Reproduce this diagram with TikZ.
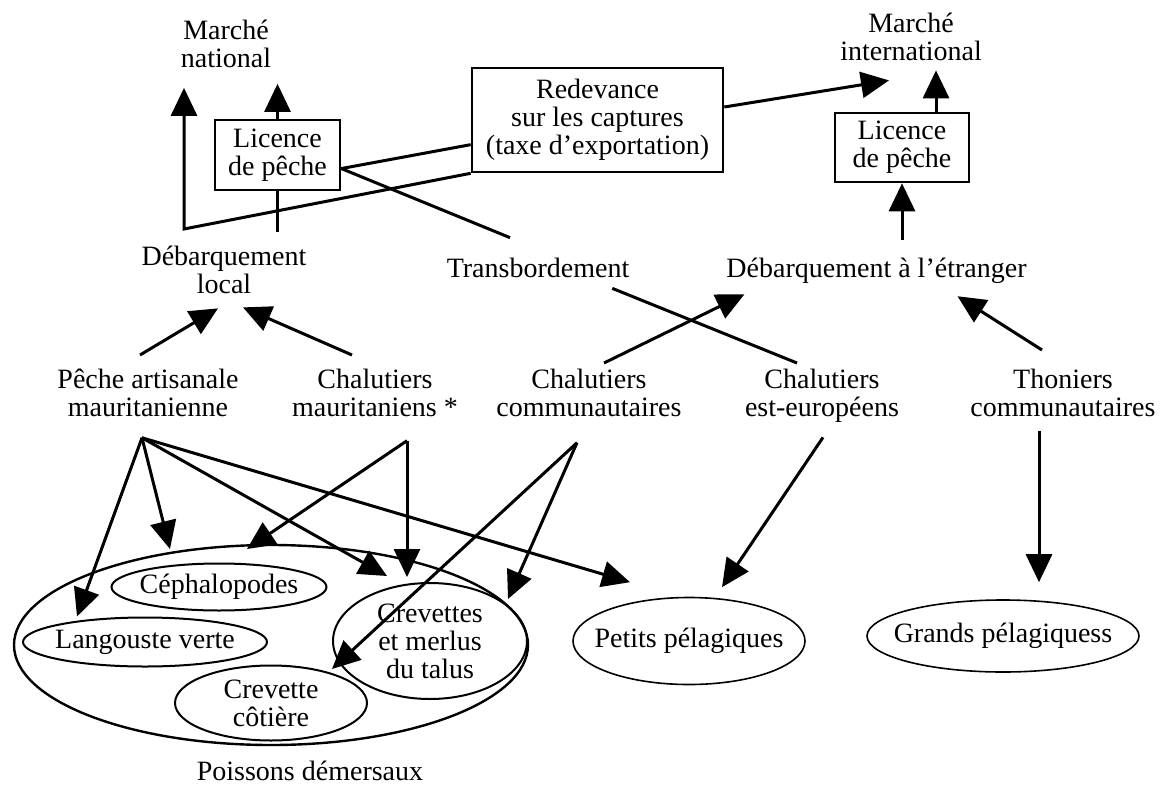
\documentclass[tikz,border=0pt]{standalone}
\usepackage{fontspec}
\setmainfont{Liberation Serif}
\usepackage{tikz}
\usetikzlibrary{arrows.meta, positioning, calc, shapes.geometric}
\tikzset{
  txtnode/.style={inner sep=0pt, outer sep=0pt, align=center, font=\fontsize{14pt}{14pt}\selectfont},
  boxnode/.style={rectangle, draw, line width=1.3pt, inner sep=0pt, align=center, font=\fontsize{14pt}{14pt}\selectfont},
  fishell/.style={ellipse, draw, line width=1pt, inner sep=0pt, align=center, font=\fontsize{14pt}{14pt}\selectfont},
  groupell/.style={ellipse, draw, line width=1.2pt, inner sep=0pt},
  arrow/.style={-{Triangle[length=14pt, width=13pt]}, line width=1.5pt},
  plainline/.style={line width=1.5pt}
}
\begin{document}
\begin{tikzpicture}[x=0.5pt, y=-0.5pt]
  \useasboundingbox (0,0) rectangle (1162,787);

  \node[txtnode] (marcheNat) at (226,44) {Marché\\national};
  \node[txtnode] (marcheInt) at (911,36.5) {Marché\\international};
  \node[boxnode, minimum width=62.5pt, minimum height=35pt] (licNat) at (277.5,155) {Licence\\de pêche};
  \node[boxnode, minimum width=67pt, minimum height=34.5pt] (licInt) at (902,147.5) {Licence\\de pêche};
  \node[boxnode, minimum width=125.5pt, minimum height=52pt] (redev) at (597.5,120) {Redevance\\sur les captures\\(taxe d'exportation)};

  \node[txtnode] (debLocal) at (224,269.5) {Débarquement\\local};
  \node[txtnode] (transb) at (538,267.5) {Transbordement};
  \node[txtnode] (debEtr) at (876.5,270.5) {Débarquement à l'étranger};

  \node[txtnode, anchor=north] (peche) at (148,369) {Pêche artisanale\\mauritanienne};
  \node[txtnode, anchor=north] (chalMaur) at (375,369) {Chalutiers\\mauritaniens *};
  \node[txtnode, anchor=north] (chalCom) at (589,369) {Chalutiers\\communautaires};
  \node[txtnode, anchor=north] (chalEst) at (822,369) {Chalutiers\\est-européens};
  \node[txtnode, anchor=north] (thon) at (1063,369) {Thoniers\\communautaires};

  \node[groupell, minimum width=257pt, minimum height=100pt] (dem) at (271,645) {};
  \node[fishell, inner xsep=-2.5pt, minimum width=107.5pt, minimum height=23.5pt] (ceph) at (219,587) {Céphalopodes};
  \node[fishell, inner xsep=-2.5pt, minimum width=122pt, minimum height=24.5pt] (lang) at (145,642) {Langouste verte};
  \node[fishell, minimum width=96pt, minimum height=37.5pt] (crevC) at (271,703) {Crevette\\côtière};
  \node[fishell, minimum width=97pt, minimum height=58pt] (talus) at (430,641) {Crevettes\\et merlus\\du talus};
  \node[fishell, line width=0.8pt, inner xsep=-8.5pt, minimum width=116pt, minimum height=43.5pt] (petits) at (689,641) {Petits pélagiques};
  \node[fishell, line width=0.8pt, inner xsep=-7.5pt, minimum width=136pt, minimum height=36pt] (grands) at (1003,636) {Grands pélagiquess};
  \node[txtnode, below=7.5pt of dem.south, xshift=19.5pt] (demLabel) {Poissons démersaux};

  \coordinate (natCorner) at (184,229);
  \coordinate (pecheFan) at ($(peche.south)+(-6,21)$);
  \coordinate (chalMaurFan) at ($(chalMaur.south)+(32,24)$);
  \coordinate (chalComFan) at ($(chalCom.south)+(-12,26)$);

  \draw[arrow, shorten >=10pt] (redev.south west) -- (natCorner) -- (natCorner |- marcheNat.south);
  \draw[arrow, shorten >=8pt] (licNat.north) -- (licNat.north |- marcheNat.south);
  \draw[plainline, shorten >=7pt] (licNat.south) -- (licNat.south |- debLocal.north);
  \draw[plainline] (licNat.-12) -- (redev.191);
  \draw[plainline] (licNat.-12) -- ($(transb.north)+(-28,-20)$);
  \draw[plainline] ($(transb.south east)+(-17,11)$) -- ($(chalEst.north)+(-25,-6)$);
  \draw[arrow] ($(redev.east)+(0,-13)$) -- ($(marcheInt.south)+(-22,20)$);
  \draw[arrow] ($(licInt.north)+(34,0)$) -- ($(marcheInt.south)+(25,10)$);
  \draw[arrow, shorten <=9pt] (debEtr.north -| licInt.south) -- (licInt.south);

  \draw[arrow] ($(peche.north)+(-8,-14)$) -- ($(debLocal.south)+(-6,15)$);
  \draw[arrow] ($(chalMaur.north)+(-23,-14)$) -- ($(debLocal.south)+(19,14)$);
  \draw[arrow] ($(chalCom.north)+(15,-6)$) -- ($(debEtr.south west)+(18,11)$);
  \draw[arrow] ($(thon.north)+(-21,-19)$) -- ($(debEtr.south east)+(-69,13)$);

  \draw[arrow] (pecheFan) -- ($(lang.north)+(-68,0)$);
  \draw[arrow] (pecheFan) -- ($(ceph.north)+(-49,-13.5)$);
  \draw[arrow] (pecheFan) -- ($(talus.north)+(-43,-6)$);
  \draw[arrow] (pecheFan) -- ($(petits.north)+(-59,-14.5)$);
  \draw[arrow] (chalMaurFan) -- ($(ceph.north)+(28,-13.5)$);
  \draw[arrow] (chalMaurFan) -- ($(talus.north)+(-23,-5)$);
  \draw[arrow] (chalComFan) -- ($(crevC.north)+(61,4.5)$);
  \draw[arrow] (chalComFan) -- ($(talus.north)+(78,17)$);
  \draw[arrow] ($(chalEst.south)+(1,15)$) -- ($(petits.north)+(33,-9.5)$);
  \draw[arrow] ($(thon.south)+(-24,14)$) -- ($(grands.north)+(36,-17)$);
\end{tikzpicture}
\end{document}
